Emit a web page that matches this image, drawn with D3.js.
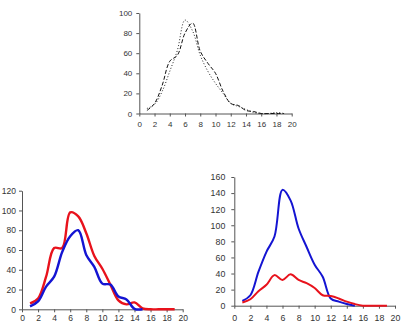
<!DOCTYPE html>
<html><head><meta charset="utf-8">
<script src="https://cdn.jsdelivr.net/npm/d3@7"></script>
<style>html,body{margin:0;padding:0;background:#fff;}svg{display:block;}</style>
</head><body>
<svg id="c" width="414" height="327"></svg>
<script>
const xs = [1,2,3,4,5,6,7,8,9,10,11,12,13,14,15,16,17,18,19];
const xTicks = [0,2,4,6,8,10,12,14,16,18,20];

// top chart
const topDashed = [3,10,28,52,58,80,90,62,50,40,22,10,8,3,2,0,0,0,0];
const topDotted = [5,9,22,42,63,93,82,58,42,30,20,10,7,4,1,0,0,1,0];
const topYTicks = [0,20,40,60,80,100];

// bottom-left chart
const blRed  = [6,11,33,62,62,98,94,77,54,41,25,9,5,7,1,0,0,0,0];
const blBlue = [3,8,23,33,58,74,80,55,43,26,25,13,10,0.5,0];
const blYTicks = [0,20,40,60,80,100,120];

// bottom-right chart
const brBlue = [6,13,42,67,86,144,131,96,73,51,36,9,5,2,0];
const brRed  = [4,8,18,26,38,32,39,32,28,22,13,12,9,5,2,0,0,0,0];
const brYTicks = [0,20,40,60,80,100,120,140,160];

const svg = d3.select("#c");

function chart(o){
  const x = d3.scaleLinear().domain([0,20]).range([o.x0,o.x1]);
  const y = d3.scaleLinear().domain([0,o.ymax]).range([o.y0,o.y1]);
  const g = svg.append("g");
  const ax = g.append("g").attr("transform",`translate(0,${o.y0})`)
    .call(d3.axisBottom(x).tickValues(xTicks).tickSize(3).tickSizeOuter(0).tickPadding(o.xpad));
  const ay = g.append("g").attr("transform",`translate(${o.x0},0)`)
    .call(d3.axisLeft(y).tickValues(o.yTicks).tickSize(3).tickSizeOuter(0).tickPadding(o.ypad));
  [ax,ay].forEach(a=>{
    a.select(".domain").attr("stroke","#555");
    a.selectAll(".tick line").attr("stroke","#555");
    a.selectAll("text").attr("fill","#333").attr("font-family","Liberation Sans, Arial, sans-serif").attr("font-size",o.fs);
  });
  const line = d3.line().x((d,i)=>x(xs[i])).y(d=>y(d)).curve(d3.curveCatmullRom.alpha(0.5));
  o.series.forEach(s=>{
    g.append("path").attr("d",line(s.v)).attr("fill","none")
      .attr("stroke",s.c).attr("stroke-width",s.w)
      .attr("stroke-dasharray",s.dash||null).attr("stroke-linejoin","round");
  });
}

chart({x0:139.3,x1:291.7,y0:113.5,y1:13,ymax:100,yTicks:topYTicks,fs:8,xpad:5,ypad:4,
  series:[{v:topDashed,c:"#111",w:1,dash:"4,2"},{v:topDotted,c:"#222",w:1,dash:"1,2"}]});
chart({x0:22,x1:182.7,y0:309.3,y1:190.7,ymax:120,yTicks:blYTicks,fs:8.5,xpad:3,ypad:3,
  series:[{v:blRed,c:"#e8121c",w:2.4},{v:blBlue,c:"#1414d2",w:2.4}]});
chart({x0:234.3,x1:395,y0:305.7,y1:177,ymax:160,yTicks:brYTicks,fs:8.8,xpad:6,ypad:6,
  series:[{v:brBlue,c:"#1414d2",w:2},{v:brRed,c:"#e8121c",w:2}]});
</script>
</body></html>
